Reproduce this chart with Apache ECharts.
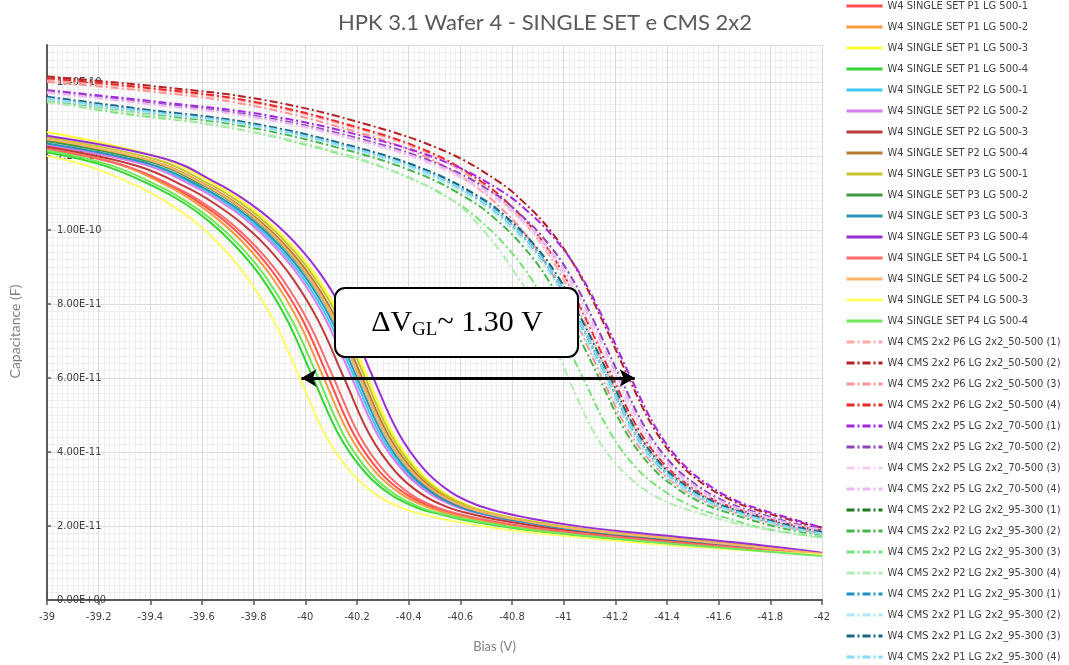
<!DOCTYPE html>
<html>
<head>
<meta charset="utf-8">
<script src="https://cdn.jsdelivr.net/npm/echarts@6/dist/echarts.min.js"></script>
<style>
  html, body { margin: 0; padding: 0; background: #ffffff; }
  #chart { width: 1069px; height: 665px; }
</style>
</head>
<body>
<div id="chart"></div>
<script>
// Capacitance values are in pF; bias in V.  Each curve is a list of [bias, capacitance] pairs.

// ---- SINGLE SET structures (solid lines) ----
const p1_500_1 = [[-39,122],[-39.29,117.5],[-39.49,111.5],[-39.59,107.4],[-39.69,102.3],[-39.79,95.7],[-39.89,87.1],[-39.99,75.6],[-40.09,60],[-40.19,44.5],[-40.29,34.5],[-40.39,28.6],[-40.49,25.1],[-40.59,23],[-40.69,21.5],[-40.89,19.3],[-41.09,17.7],[-41.49,15.1],[-42,12.2]];
const p1_500_2 = [[-39,122.5],[-39.27,118],[-39.47,111.8],[-39.57,107.6],[-39.67,102.4],[-39.77,95.8],[-39.87,87.3],[-39.97,75.8],[-40.07,60.2],[-40.17,44.7],[-40.27,34.7],[-40.37,28.7],[-40.47,25.2],[-40.57,23.1],[-40.67,21.6],[-40.87,19.4],[-41.07,17.8],[-41.47,15.2],[-42,12.3]];
const p1_500_3 = [[-39,126.5],[-39.44,119.5],[-39.64,112.8],[-39.74,108.5],[-39.84,103.2],[-39.94,96.5],[-40.04,87.8],[-40.14,76.2],[-40.24,60.3],[-40.34,44.8],[-40.44,34.8],[-40.54,28.8],[-40.64,25.3],[-40.74,23.2],[-40.84,21.7],[-41.04,19.4],[-41.24,17.8],[-41.64,15.2],[-42,12.3]];
const p1_500_4 = [[-39,121],[-39.23,117.2],[-39.43,111.2],[-39.53,107.3],[-39.63,102.2],[-39.73,95.6],[-39.83,87.2],[-39.93,75.6],[-40.03,60],[-40.13,44.6],[-40.23,34.6],[-40.33,28.5],[-40.43,25],[-40.53,23],[-40.63,21.4],[-40.83,19.2],[-41.03,17.6],[-41.43,15.1],[-42,12.1]];
const p2_500_1 = [[-39,123.2],[-39.39,117.7],[-39.59,111.5],[-39.69,107.4],[-39.79,102.3],[-39.89,95.7],[-39.99,87.2],[-40.09,75.7],[-40.19,60.1],[-40.29,44.6],[-40.39,34.7],[-40.49,28.7],[-40.59,25.2],[-40.69,23.2],[-40.79,21.7],[-40.99,19.5],[-41.19,17.9],[-41.59,15.3],[-42,12.5]];
const p2_500_2 = [[-39,123],[-39.38,117.6],[-39.58,111.4],[-39.68,107.3],[-39.78,102.2],[-39.88,95.6],[-39.98,87.1],[-40.08,75.6],[-40.18,60],[-40.28,44.6],[-40.38,34.8],[-40.48,28.8],[-40.58,25.3],[-40.68,23.3],[-40.78,21.8],[-40.98,19.6],[-41.18,18],[-41.58,15.3],[-42,12.6]];
const p2_500_3 = [[-39,122.5],[-39.35,117.3],[-39.55,111.2],[-39.65,107.1],[-39.75,102],[-39.85,95.5],[-39.95,87],[-40.05,75.5],[-40.15,60],[-40.25,44.5],[-40.35,34.6],[-40.45,28.6],[-40.55,25.1],[-40.65,23.1],[-40.75,21.6],[-40.95,19.4],[-41.15,17.8],[-41.55,15.2],[-42,12.4]];
const p2_500_4 = [[-39,124.2],[-39.42,118.4],[-39.62,112],[-39.72,107.8],[-39.82,102.6],[-39.92,96],[-40.02,87.5],[-40.12,75.9],[-40.22,60.1],[-40.32,44.7],[-40.42,34.8],[-40.52,28.8],[-40.62,25.3],[-40.72,23.2],[-40.82,21.7],[-41.02,19.5],[-41.22,17.9],[-41.62,15.3],[-42,12.6]];
const p3_500_1 = [[-39,125],[-39.43,118.9],[-39.63,112.4],[-39.73,108.2],[-39.83,103],[-39.93,96.3],[-40.03,87.7],[-40.13,76.1],[-40.23,60.3],[-40.33,44.8],[-40.43,34.9],[-40.53,28.9],[-40.63,25.4],[-40.73,23.3],[-40.83,21.8],[-41.03,19.6],[-41.23,18],[-41.63,15.4],[-42,12.6]];
const p3_500_2 = [[-39,124],[-39.41,118.2],[-39.61,111.9],[-39.71,107.8],[-39.81,102.6],[-39.91,96],[-40.01,87.4],[-40.11,75.9],[-40.21,60.2],[-40.31,44.7],[-40.41,34.7],[-40.51,28.7],[-40.61,25.2],[-40.71,23.2],[-40.81,21.7],[-41.01,19.4],[-41.21,17.8],[-41.61,15.2],[-42,12.2]];
const p3_500_3 = [[-39,123.4],[-39.4,117.8],[-39.6,111.6],[-39.7,107.5],[-39.8,102.4],[-39.9,95.8],[-40,87.3],[-40.1,75.8],[-40.2,60.1],[-40.3,44.6],[-40.4,34.6],[-40.5,28.6],[-40.6,25.1],[-40.7,23.1],[-40.8,21.6],[-41,19.4],[-41.2,17.8],[-41.6,15.2],[-42,12.4]];
const p3_500_4 = [[-39,125.5],[-39.46,119.2],[-39.66,112.6],[-39.76,108.4],[-39.86,103.2],[-39.96,96.6],[-40.06,88],[-40.16,76.4],[-40.26,60.5],[-40.36,45.2],[-40.46,35.3],[-40.56,29.3],[-40.66,25.8],[-40.76,23.7],[-40.86,22.2],[-41.06,19.9],[-41.26,18.3],[-41.66,15.6],[-42,12.8]];
const p4_500_1 = [[-39,121.8],[-39.31,117.2],[-39.51,111.1],[-39.61,107.1],[-39.71,102],[-39.81,95.4],[-39.91,86.9],[-40.01,75.4],[-40.11,59.9],[-40.21,44.4],[-40.31,34.5],[-40.41,28.5],[-40.51,25],[-40.61,23],[-40.71,21.5],[-40.91,19.3],[-41.11,17.7],[-41.51,15.1],[-42,12.3]];
const p4_500_2 = [[-39,124.5],[-39.41,118.6],[-39.61,112.2],[-39.71,108],[-39.81,102.8],[-39.91,96.2],[-40.01,87.6],[-40.11,76],[-40.21,60.2],[-40.31,44.8],[-40.41,34.9],[-40.51,28.9],[-40.61,25.4],[-40.71,23.3],[-40.81,21.8],[-41.01,19.5],[-41.21,17.9],[-41.61,15.3],[-42,12.5]];
const p4_500_3 = [[-39,120],[-39.18,116.8],[-39.38,110.8],[-39.48,106.8],[-39.58,101.8],[-39.68,95.2],[-39.78,86.6],[-39.88,75.2],[-39.98,59.8],[-40.08,44.3],[-40.18,34.2],[-40.28,28.2],[-40.38,24.7],[-40.48,22.7],[-40.58,21.2],[-40.78,19],[-40.98,17.5],[-41.38,15],[-42,12.2]];
const p4_500_4 = [[-39,121.5],[-39.25,117.4],[-39.45,111.3],[-39.55,107.2],[-39.65,102.1],[-39.75,95.5],[-39.85,87],[-39.95,75.4],[-40.05,60],[-40.15,44.4],[-40.25,34.4],[-40.35,28.4],[-40.45,24.9],[-40.55,22.9],[-40.65,21.4],[-40.85,19.2],[-41.05,17.6],[-41.45,15],[-42,11.9]];

// ---- CMS 2x2 structures (dash-dot lines) ----
const p6_50_1 = [[-39,140.5],[-39.38,138.2],[-39.78,134.6],[-40.18,127.8],[-40.48,120.6],[-40.68,112.5],[-40.78,106.7],[-40.88,99.3],[-40.98,89],[-41.08,75.2],[-41.18,60],[-41.28,46],[-41.38,36.6],[-41.48,30.7],[-41.58,26.7],[-41.68,24.1],[-41.88,20.1],[-42,18.6]];
const p6_50_2 = [[-39,141.5],[-39.45,138.6],[-39.85,135],[-40.25,128.3],[-40.55,121],[-40.75,113],[-40.85,107.2],[-40.95,99.7],[-41.05,89.4],[-41.15,75.5],[-41.25,60.3],[-41.35,46.3],[-41.45,36.8],[-41.55,30.9],[-41.65,26.9],[-41.75,24.3],[-41.95,20.3],[-42,19.6]];
const p6_50_3 = [[-39,140],[-39.35,137.8],[-39.75,134.2],[-40.15,127.5],[-40.45,120.3],[-40.65,112.2],[-40.75,106.4],[-40.85,99],[-40.95,88.7],[-41.05,75],[-41.15,59.8],[-41.25,45.8],[-41.35,36.4],[-41.45,30.5],[-41.55,26.5],[-41.65,23.9],[-41.85,19.9],[-42,18]];
const p6_50_4 = [[-39,141],[-39.39,138.4],[-39.79,134.8],[-40.19,128],[-40.49,120.8],[-40.69,112.7],[-40.79,106.9],[-40.89,99.5],[-40.99,89.2],[-41.09,75.4],[-41.19,60.1],[-41.29,46.1],[-41.39,36.7],[-41.49,30.8],[-41.59,26.8],[-41.69,24.2],[-41.89,20.2],[-42,18.9]];
const p5_70_1 = [[-39,137.8],[-39.46,134.4],[-39.86,130.9],[-40.26,124.7],[-40.56,117.9],[-40.76,110.5],[-40.86,105.1],[-40.96,98.1],[-41.06,88.5],[-41.16,75.1],[-41.26,60.1],[-41.36,46.2],[-41.46,36.9],[-41.56,31.1],[-41.66,27.1],[-41.76,24.5],[-42,19.6]];
const p5_70_2 = [[-39,137.5],[-39.42,134.2],[-39.82,130.7],[-40.22,124.5],[-40.52,117.7],[-40.72,110.4],[-40.82,105],[-40.92,98],[-41.02,88.4],[-41.12,75],[-41.22,60],[-41.32,46.1],[-41.42,36.7],[-41.52,30.8],[-41.62,26.8],[-41.72,24.2],[-41.92,20.2],[-42,19.4]];
const p5_70_3 = [[-39,137],[-39.4,133.9],[-39.8,130.4],[-40.2,124.2],[-40.5,117.4],[-40.7,110.1],[-40.8,104.7],[-40.9,97.7],[-41,88.1],[-41.1,74.8],[-41.2,59.9],[-41.3,45.9],[-41.4,36.5],[-41.5,30.6],[-41.6,26.6],[-41.7,24],[-41.9,20],[-42,18.9]];
const p5_70_4 = [[-39,137.3],[-39.41,134],[-39.81,130.5],[-40.21,124.3],[-40.51,117.5],[-40.71,110.2],[-40.81,104.8],[-40.91,97.8],[-41.01,88.2],[-41.11,74.9],[-41.21,60],[-41.31,46],[-41.41,36.6],[-41.51,30.7],[-41.61,26.7],[-41.71,24.1],[-41.91,20.1],[-42,19.1]];
const p2_95_1 = [[-39,135.4],[-39.37,132.1],[-39.77,128.6],[-40.17,122.3],[-40.47,115.5],[-40.67,108.3],[-40.77,103],[-40.87,96.1],[-40.97,86.8],[-41.07,74],[-41.17,59.8],[-41.27,45.7],[-41.37,36.2],[-41.47,30.3],[-41.57,26.3],[-41.67,23.7],[-41.87,19.7],[-42,17.9]];
const p2_95_2 = [[-39,135],[-39.34,131.8],[-39.74,128.3],[-40.14,122],[-40.44,115.2],[-40.64,108],[-40.74,102.7],[-40.84,95.8],[-40.94,86.5],[-41.04,73.7],[-41.14,59.6],[-41.24,45.5],[-41.34,36],[-41.44,30.1],[-41.54,26.1],[-41.64,23.5],[-41.84,19.5],[-42,17.6]];
const p2_95_3 = [[-39,134.8],[-39.28,131.6],[-39.68,128],[-40.08,121.6],[-40.38,114.8],[-40.58,107.6],[-40.68,102.3],[-40.78,95.4],[-40.88,86.2],[-40.98,73.4],[-41.08,59.3],[-41.18,45.3],[-41.28,35.8],[-41.38,29.9],[-41.48,25.9],[-41.58,23.3],[-41.78,19.3],[-42,17]];
const p2_95_4 = [[-39,134.5],[-39.4,131],[-39.8,126.5],[-40.2,119.5],[-40.4,114],[-40.56,108.5],[-40.7,99],[-40.82,87.5],[-40.92,76],[-41,63],[-41.05,55],[-41.12,45],[-41.2,37],[-41.3,30.5],[-41.4,26.5],[-41.5,24],[-41.7,20.2],[-42,16.8]];
const p1_95_1 = [[-39,135.8],[-39.37,132.4],[-39.77,128.9],[-40.17,122.6],[-40.47,115.8],[-40.67,108.6],[-40.77,103.3],[-40.87,96.4],[-40.97,87.1],[-41.07,74.3],[-41.17,60],[-41.27,45.9],[-41.37,36.4],[-41.47,30.5],[-41.57,26.5],[-41.67,23.9],[-41.87,19.9],[-42,18.2]];
const p1_95_2 = [[-39,135.3],[-39.36,132],[-39.76,128.5],[-40.16,122.2],[-40.46,115.4],[-40.66,108.2],[-40.76,102.9],[-40.86,96],[-40.96,86.8],[-41.06,74],[-41.16,59.8],[-41.26,45.7],[-41.36,36.2],[-41.46,30.3],[-41.56,26.3],[-41.66,23.7],[-41.86,19.7],[-42,17.8]];
const p1_95_3 = [[-39,136],[-39.38,132.6],[-39.78,129],[-40.18,122.7],[-40.48,115.9],[-40.68,108.7],[-40.78,103.4],[-40.88,96.5],[-40.98,87.2],[-41.08,74.4],[-41.18,60.1],[-41.28,46],[-41.38,36.5],[-41.48,30.6],[-41.58,26.6],[-41.68,24],[-41.88,20],[-42,18.4]];
const p1_95_4 = [[-39,135.6],[-39.37,132.2],[-39.77,128.7],[-40.17,122.4],[-40.47,115.6],[-40.67,108.4],[-40.77,103.1],[-40.87,96.2],[-40.97,86.9],[-41.07,74.1],[-41.17,59.9],[-41.27,45.8],[-41.37,36.3],[-41.47,30.4],[-41.57,26.4],[-41.67,23.8],[-41.87,19.8],[-42,18]];

// Legend names, colours and data, in legend order
const curveNames = [
  'W4 SINGLE SET P1 LG 500-1', 'W4 SINGLE SET P1 LG 500-2', 'W4 SINGLE SET P1 LG 500-3', 'W4 SINGLE SET P1 LG 500-4',
  'W4 SINGLE SET P2 LG 500-1', 'W4 SINGLE SET P2 LG 500-2', 'W4 SINGLE SET P2 LG 500-3', 'W4 SINGLE SET P2 LG 500-4',
  'W4 SINGLE SET P3 LG 500-1', 'W4 SINGLE SET P3 LG 500-2', 'W4 SINGLE SET P3 LG 500-3', 'W4 SINGLE SET P3 LG 500-4',
  'W4 SINGLE SET P4 LG 500-1', 'W4 SINGLE SET P4 LG 500-2', 'W4 SINGLE SET P4 LG 500-3', 'W4 SINGLE SET P4 LG 500-4',
  'W4 CMS 2x2 P6 LG 2x2_50-500 (1)', 'W4 CMS 2x2 P6 LG 2x2_50-500 (2)', 'W4 CMS 2x2 P6 LG 2x2_50-500 (3)', 'W4 CMS 2x2 P6 LG 2x2_50-500 (4)',
  'W4 CMS 2x2 P5 LG 2x2_70-500 (1)', 'W4 CMS 2x2 P5 LG 2x2_70-500 (2)', 'W4 CMS 2x2 P5 LG 2x2_70-500 (3)', 'W4 CMS 2x2 P5 LG 2x2_70-500 (4)',
  'W4 CMS 2x2 P2 LG 2x2_95-300 (1)', 'W4 CMS 2x2 P2 LG 2x2_95-300 (2)', 'W4 CMS 2x2 P2 LG 2x2_95-300 (3)', 'W4 CMS 2x2 P2 LG 2x2_95-300 (4)',
  'W4 CMS 2x2 P1 LG 2x2_95-300 (1)', 'W4 CMS 2x2 P1 LG 2x2_95-300 (2)', 'W4 CMS 2x2 P1 LG 2x2_95-300 (3)', 'W4 CMS 2x2 P1 LG 2x2_95-300 (4)'
];
const curveColors = [
  '#ff4f4f', '#f79a3e', '#ffff33', '#33d633',
  '#3ec8f2', '#d77cf2', '#c0393b', '#b87a2e',
  '#c8c428', '#3d9a3d', '#2b93b5', '#9a2fd6',
  '#ff6a6a', '#ffb366', '#ffff66', '#6ee85a',
  '#ffaaaa', '#b22222', '#ff9494', '#ee2828',
  '#a526e8', '#8e44c0', '#f2d2f4', '#ebb8f2',
  '#1f7a1f', '#45b845', '#7ae27a', '#b2ecb2',
  '#1f8fc4', '#aee6f8', '#1b6580', '#86dcf6'
];
const curveData = [
  p1_500_1, p1_500_2, p1_500_3, p1_500_4, p2_500_1, p2_500_2, p2_500_3, p2_500_4,
  p3_500_1, p3_500_2, p3_500_3, p3_500_4, p4_500_1, p4_500_2, p4_500_3, p4_500_4,
  p6_50_1, p6_50_2, p6_50_3, p6_50_4, p5_70_1, p5_70_2, p5_70_3, p5_70_4,
  p2_95_1, p2_95_2, p2_95_3, p2_95_4, p1_95_1, p1_95_2, p1_95_3, p1_95_4
];
const singleSetCount = 16;

// Gate-line voltage shift marker: from/to bias at a capacitance level (pF)
const shiftFrom = [-39.985, 60];
const shiftTo = [-41.275, 60];

const condensed = '"Liberation Sans Narrow", "DejaVu Sans Condensed", "Open Sans", sans-serif';

function sciLabel(pF) {
  if (pF === 0) return '0.00E+00';
  const e = Math.floor(Math.log10(Math.abs(pF)) + 1e-9);
  const m = pF / Math.pow(10, e);
  const exp = e - 12;
  const sign = exp < 0 ? '-' : '+';
  const a = Math.abs(exp);
  return m.toFixed(2) + 'E' + sign + (a < 10 ? '0' + a : '' + a);
}

const series = curveData.map((d, i) => ({
  name: curveNames[i],
  type: 'line',
  data: d,
  showSymbol: false,
  symbol: 'circle',
  symbolSize: 0,
  smooth: 0.4,
  lineStyle: {
    color: curveColors[i],
    width: 2,
    type: i < singleSetCount ? 'solid' : [8, 3, 2, 3]
  },
  itemStyle: { color: curveColors[i] },
  emphasis: { disabled: true },
  z: 2
}));

series.push({
  type: 'line',
  data: [],
  silent: true,
  z: 20,
  markLine: {
    silent: true,
    symbol: ['arrow', 'arrow'],
    symbolSize: [13, 15],
    lineStyle: { color: '#000', width: 3, type: 'solid' },
    label: { show: false },
    data: [[{ coord: shiftFrom }, { coord: shiftTo }]]
  }
});

const chart = echarts.init(document.getElementById('chart'), null, { renderer: 'canvas' });
chart.setOption({
  animation: false,
  backgroundColor: '#ffffff',
  title: {
    text: 'HPK 3.1 Wafer 4 - SINGLE SET e CMS 2x2',
    left: 333,
    top: 7,
    textStyle: { fontFamily: 'Lato, "Open Sans", sans-serif', fontSize: 22, fontWeight: 'normal', color: '#595959' }
  },
  legend: {
    orient: 'vertical',
    left: 840,
    top: -5,
    height: 700,
    itemWidth: 36,
    itemHeight: 12,
    itemGap: 9,
    data: curveNames,
    lineStyle: { width: 3 },
    itemStyle: { color: 'rgba(0,0,0,0)', borderWidth: 0, opacity: 0 },
    textStyle: { fontFamily: condensed, fontSize: 11, color: '#404040', lineHeight: 12 },
    selectedMode: false
  },
  grid: { left: 45, right: 247, top: 45, bottom: 65, containLabel: false },
  xAxis: {
    type: 'value',
    inverse: true,
    min: -42,
    max: -39,
    interval: 0.2,
    name: 'Bias (V)',
    nameLocation: 'middle',
    nameGap: 40,
    nameTextStyle: { fontFamily: 'Lato, "Open Sans", sans-serif', fontSize: 13, color: '#7f7f7f', padding: [0, 0, 0, 120] },
    axisLine: { show: true, onZero: false, lineStyle: { color: '#595959', width: 2 } },
    axisTick: { show: true, length: 5, lineStyle: { color: '#595959', width: 1.5 } },
    axisLabel: {
      fontFamily: condensed, fontSize: 11, color: '#404040', margin: 12,
      formatter: v => String(+v.toFixed(1))
    },
    splitLine: { show: true, lineStyle: { color: '#d9d9d9', width: 1 } },
    minorTick: { show: false, splitNumber: 10 },
    minorSplitLine: { show: true, lineStyle: { color: '#eeeeee', width: 1 } }
  },
  yAxis: {
    type: 'value',
    min: 0,
    max: 150,
    interval: 20,
    name: 'Capacitance (F)',
    nameLocation: 'middle',
    nameGap: 25,
    nameRotate: 90,
    nameTextStyle: { fontFamily: 'Lato, "Open Sans", sans-serif', fontSize: 14, color: '#7f7f7f', padding: [0, 18, 0, 0] },
    axisLine: { show: true, lineStyle: { color: '#595959', width: 2 } },
    axisTick: { show: true, inside: true, length: 4, lineStyle: { color: '#595959', width: 1.5 } },
    axisLabel: {
      inside: true, margin: 10, showMaxLabel: false,
      fontFamily: condensed, fontSize: 11, color: '#404040',
      formatter: v => sciLabel(v)
    },
    splitLine: { show: true, lineStyle: { color: '#d9d9d9', width: 1 } },
    minorTick: { show: false, splitNumber: 10 },
    minorSplitLine: { show: true, lineStyle: { color: '#eeeeee', width: 1 } }
  },
  graphic: [{
    type: 'group',
    z: 100,
    children: [
      {
        type: 'rect',
        shape: { x: 335, y: 288, width: 243, height: 69, r: 10 },
        style: { fill: '#ffffff', stroke: '#000000', lineWidth: 2 },
        z: 100
      },
      {
        type: 'text',
        x: 457,
        y: 323,
        z: 101,
        style: {
          text: '{a|ΔV}{s|GL}{a|~ 1.30 V}',
          align: 'center',
          verticalAlign: 'middle',
          rich: {
            a: { fontFamily: '"Liberation Serif", "DejaVu Serif", serif', fontSize: 30, lineHeight: 34, fill: '#000' },
            s: { fontFamily: '"Liberation Serif", "DejaVu Serif", serif', fontSize: 19, lineHeight: 20, verticalAlign: 'bottom', fill: '#000' }
          }
        }
      }
    ]
  }],
  series: series
});
</script>
</body>
</html>
